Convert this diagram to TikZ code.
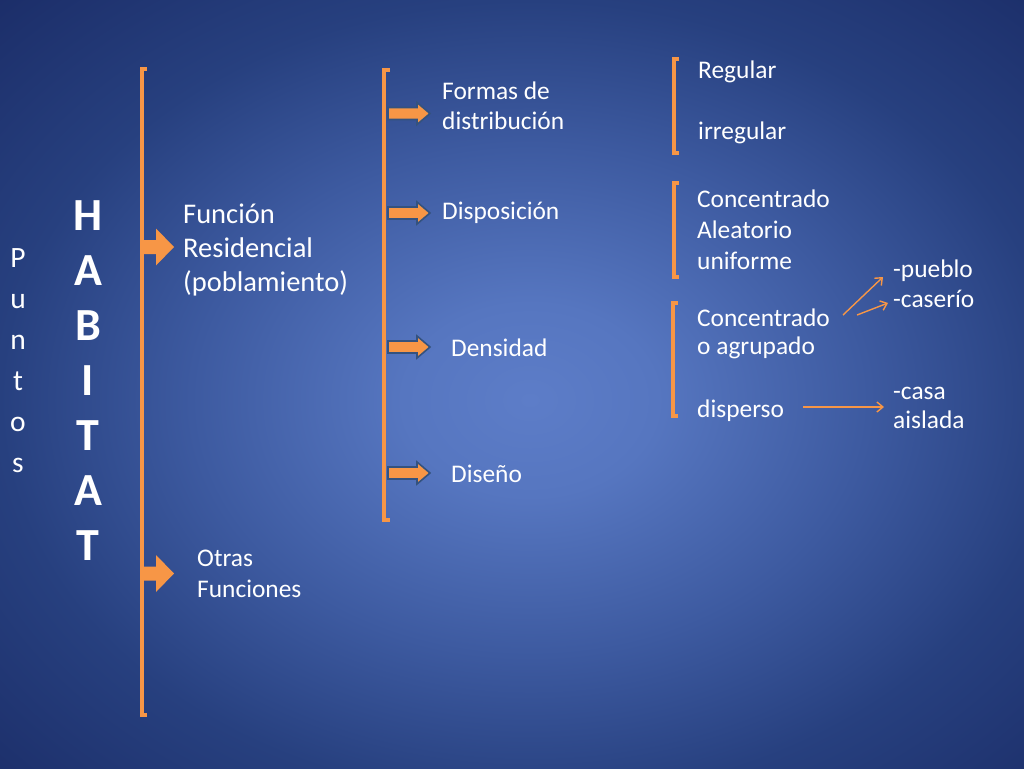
\documentclass[tikz,border=0pt]{standalone}
\usepackage{fontspec}
\setmainfont{Carlito}
\usetikzlibrary{arrows.meta,calc}
\definecolor{orng}{HTML}{F79646}
\definecolor{arrline}{HTML}{34527F}
\definecolor{bgA}{HTML}{5D7DC8}
\definecolor{bgB}{HTML}{5676C0}
\definecolor{bgC}{HTML}{3D5AA0}
\definecolor{bgD}{HTML}{27407F}
\definecolor{bgE}{HTML}{1B2D68}
\pgfdeclareradialshading{bgshade}{\pgfpoint{0bp}{0bp}}{color(0bp)=(bgA); color(6bp)=(bgB); color(16bp)=(bgC); color(25bp)=(bgD); color(36bp)=(bgE); color(50bp)=(bgE)}
\tikzset{
  lbl/.style={text=white, anchor=base west, inner sep=0pt, align=left, font=\fontsize{25.4}{30.5}\selectfont},
  brk/.style={draw=orng, line width=4pt, line join=miter},
  thinarr/.style={draw=orng, line width=1.4pt, -{Straight Barb[length=6pt,width=10pt,line width=1.4pt]}},
  bigarr/.pic={\fill[orng] (0,-7) -- (15,-7) -- (15,-18.5) -- (33,0) -- (15,18.5) -- (15,7) -- (0,7) -- cycle;},
  smallarr/.pic={\filldraw[fill=orng, draw=arrline, line width=1.6pt] (0,-6) -- (29,-6) -- (29,-11) -- (42,0) -- (29,11) -- (29,6) -- (0,6) -- cycle;}
}
\begin{document}
\begin{tikzpicture}[x=1pt,y=-1pt]
\useasboundingbox (0,0) rectangle (1024,768);
\begin{scope}
\clip (0,0) rectangle (1024,768);
\shade[shading=bgshade] (0,0) rectangle (1060,800);
\end{scope}

% Brackets
\draw[brk] (147,69) -- (141.5,69) -- (141.5,715) -- (147,715);
\draw[brk] (390,70) -- (384,70) -- (384,520) -- (390,520);
\draw[brk] (679,59) -- (674,59) -- (674,153) -- (679,153);
\draw[brk] (679,183) -- (674,183) -- (674,277) -- (679,277);
\draw[brk] (678,303) -- (672.5,303) -- (672.5,416) -- (678,416);

% Block arrows
\pic at (141,247) {bigarr};
\pic at (141,573.5) {bigarr};
\pic at (388,113.5) {smallarr};
\pic at (388,213) {smallarr};
\pic at (388,347) {smallarr};
\pic at (388,473) {smallarr};

% Titles (multi-line nodes: base = baseline of last line)
\node[text=white, anchor=base, inner sep=0pt, align=center, font=\bfseries\fontsize{46}{55}\selectfont] (habitat) at (88,560) {H\\A\\B\\I\\T\\A\\T};
\node[text=white, anchor=base, inner sep=0pt, align=center, font=\fontsize{29.5}{41}\selectfont] (puntos) at (18,472) {P\\u\\n\\t\\o\\s};

% Labels
\node[lbl, font=\fontsize{28.5}{34}\selectfont] (func) at (183,291) {Función\\Residencial\\(poblamiento)};
\node[lbl, font=\fontsize{25.4}{31}\selectfont] (otras) at (197,597) {Otras\\Funciones};
\node[lbl, font=\fontsize{25.4}{30}\selectfont] (formas) at (442,129) {Formas de\\distribución};
\node[lbl] (disp) at (442,219) {Disposición};
\node[lbl] (dens) at (451,356) {Densidad};
\node[lbl] (dise) at (451,482) {Diseño};
\node[lbl] (reg) at (698,78) {Regular};
\node[lbl] (irr) at (698,139) {irregular};
\node[lbl, font=\fontsize{25.4}{31}\selectfont] (conc1) at (697,269) {Concentrado\\Aleatorio\\uniforme};
\node[lbl, font=\fontsize{25.4}{28}\selectfont] (conc2) at (697,354) {Concentrado\\o agrupado};
\node[lbl] (dispe) at (697,417) {disperso};
\node[lbl, font=\fontsize{25.4}{30}\selectfont] (pueblo) at (893,307) {-pueblo\\-caserío};
\node[lbl, font=\fontsize{25.4}{29}\selectfont] (casa) at (893,428) {-casa\\aislada};

% Thin connectors
\coordinate (s1) at (843,315);
\coordinate (s2) at (857,315);
\coordinate (s3) at (803,407);
\coordinate (e1) at (883,277);
\coordinate (e2) at (888,303);
\coordinate (e3) at (884,407);
\draw[thinarr] (s1) -- (e1);
\draw[thinarr] (s2) -- (e2);
\draw[thinarr] (s3) -- (e3);
\end{tikzpicture}
\end{document}
